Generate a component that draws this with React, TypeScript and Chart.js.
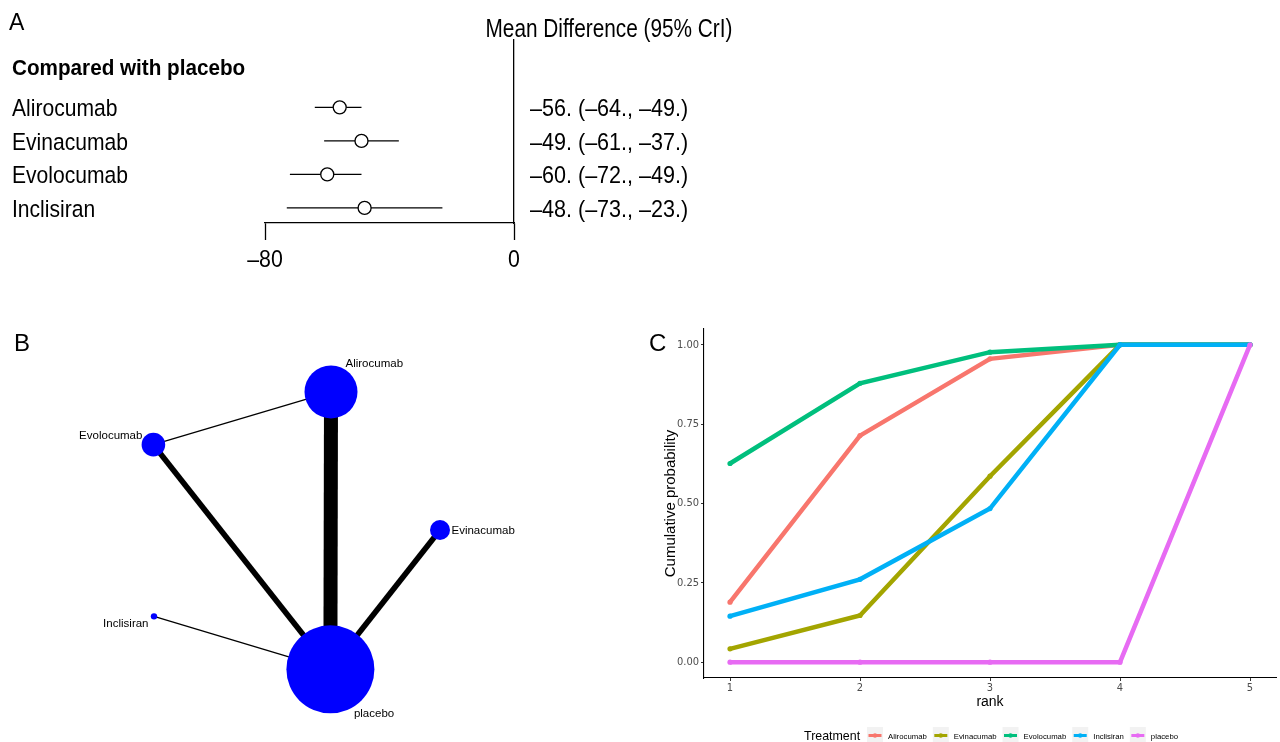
import React, { useEffect, useRef } from 'react';
import { Chart, registerables } from 'chart.js';

Chart.register(...registerables);

// ---------------- Panel A: forest plot data ----------------
const forestTreatments = ['Alirocumab', 'Evinacumab', 'Evolocumab', 'Inclisiran'];
const meanDifference = [-56, -49, -60, -48];
const lowerCrI = [-64, -61, -72, -73];
const upperCrI = [-49, -37, -49, -23];
const forestTicks = [-80, 0];
const forestTitle = 'Mean Difference (95% CrI)';
const forestHeader = 'Compared with placebo';

// ---------------- Panel B: network data ----------------
const netNodes = ['placebo', 'Alirocumab', 'Evolocumab', 'Evinacumab', 'Inclisiran'];
const netNodeX = [0.152, 0.155, -0.733, 0.7, -0.73];
const netNodeY = [-0.828, 0.833, 0.517, 0.006, -0.511];
const netNodeSize = [44, 26.5, 11.8, 10, 3.2];
const netEdgeFrom = ['Alirocumab', 'Evolocumab', 'Evinacumab', 'Inclisiran', 'Evolocumab'];
const netEdgeTo = ['placebo', 'placebo', 'placebo', 'placebo', 'Alirocumab'];
const netEdgeStudies = [5, 2, 2, 1, 1];

// ---------------- Panel C: cumulative ranking data ----------------
const ranks = [1, 2, 3, 4, 5];
const rankTreatments = ['Alirocumab', 'Evinacumab', 'Evolocumab', 'Inclisiran', 'placebo'];
const cumAlirocumab = [0.189, 0.714, 0.956, 1, 1];
const cumEvinacumab = [0.042, 0.147, 0.586, 1, 1];
const cumEvolocumab = [0.626, 0.879, 0.977, 1, 1];
const cumInclisiran = [0.145, 0.261, 0.484, 1, 1];
const cumPlacebo = [0, 0, 0, 0, 1];
const probTicks = [0, 0.25, 0.5, 0.75, 1];

const cumSeries = [cumAlirocumab, cumEvinacumab, cumEvolocumab, cumInclisiran, cumPlacebo];
const seriesColors = ['#F8766D', '#A3A500', '#00BF7D', '#00B0F6', '#E76BF3'];

const CONDENSED = '"DejaVu Sans Condensed", "Liberation Sans Narrow", sans-serif';
const SANS = '"Liberation Sans", Arial, sans-serif';

const fmtNum = (v: number) => (v < 0 ? '\u2013' : '') + Math.abs(v);
const ciLabels = meanDifference.map(
  (m, i) => `${fmtNum(m)}. (${fmtNum(lowerCrI[i])}., ${fmtNum(upperCrI[i])}.)`
);
const HEADER_ROW = -1.2;

// draws text horizontally condensed by factor k, vertically centred on the cap height
function drawText(
  ctx: CanvasRenderingContext2D,
  text: string,
  x: number,
  capCenterY: number,
  size: number,
  weight: string,
  k: number,
  align: 'left' | 'center' | 'right',
  color = '#000'
) {
  ctx.save();
  ctx.font = `${weight} ${size}px ${SANS}`;
  ctx.textBaseline = 'alphabetic';
  ctx.textAlign = 'left';
  ctx.fillStyle = color;
  const w = ctx.measureText(text).width * k;
  const left = align === 'left' ? x : align === 'center' ? x - w / 2 : x - w;
  ctx.translate(left, capCenterY + 0.358 * size);
  ctx.scale(k, 1);
  ctx.fillText(text, 0, 0);
  ctx.restore();
  return w;
}

const forestTextPlugin = {
  id: 'forestText',
  afterDraw(chart: any) {
    const { ctx, chartArea, scales } = chart;
    const sx = scales.x;
    const sy = scales.y;
    drawText(ctx, forestTitle, chartArea.right + 95, 28, 26, 'normal', 0.8, 'center');
    drawText(ctx, forestHeader, 12, sy.getPixelForValue(HEADER_ROW), 22, 'bold', 0.94, 'left');
    forestTreatments.forEach((t, i) => {
      const y = sy.getPixelForValue(i);
      drawText(ctx, t, 12, y, 24.5, 'normal', 0.86, 'left');
      drawText(ctx, ciLabels[i], chartArea.right + 16, y, 24.5, 'normal', 0.88, 'left');
    });
    forestTicks.forEach((v) => {
      drawText(ctx, fmtNum(v), sx.getPixelForValue(v), 258.5, 24.5, 'normal', 0.87, 'center');
    });
  },
};

const labelPlacement: Record<string, [number, number, CanvasTextAlign]> = {
  placebo: [23.5, 45, 'left'],
  Alirocumab: [14.5, -28, 'left'],
  Evolocumab: [-11, -9, 'right'],
  Evinacumab: [11.5, 1, 'left'],
  Inclisiran: [-5.5, 7, 'right'],
};

const netLabelPlugin = {
  id: 'netLabels',
  afterDatasetsDraw(chart: any) {
    const idx = chart.data.datasets.findIndex((d: any) => d.type === 'bubble');
    const meta = chart.getDatasetMeta(idx);
    const { ctx } = chart;
    ctx.save();
    ctx.font = `11.5px ${SANS}`;
    ctx.fillStyle = '#000';
    ctx.textBaseline = 'middle';
    meta.data.forEach((el: any, i: number) => {
      const name = netNodes[i];
      const p = labelPlacement[name];
      ctx.textAlign = p[2];
      ctx.fillText(name, el.x + p[0], el.y + p[1]);
    });
    ctx.restore();
  },
};

const rankLegendPlugin = {
  id: 'rankLegend',
  afterDraw(chart: any) {
    const { ctx } = chart;
    const yc = 415.5;
    drawText(ctx, 'Treatment', 164, yc, 13.5, 'normal', 0.92, 'left');
    let x = 227;
    chart.data.datasets.forEach((ds: any) => {
      ctx.save();
      ctx.fillStyle = '#f2f2f2';
      ctx.fillRect(x, yc - 8.5, 16, 17);
      ctx.strokeStyle = ds.borderColor;
      ctx.lineWidth = 3;
      ctx.beginPath();
      ctx.moveTo(x + 1.5, yc);
      ctx.lineTo(x + 14.5, yc);
      ctx.stroke();
      ctx.fillStyle = ds.borderColor;
      ctx.beginPath();
      ctx.arc(x + 8, yc, 2.2, 0, Math.PI * 2);
      ctx.fill();
      ctx.restore();
      const w = drawText(ctx, ds.label, x + 21, yc + 0.5, 8, 'normal', 0.97, 'left');
      x += 21 + w + 6;
    });
  },
};

function ForestPanel() {
  const ref = useRef<HTMLCanvasElement>(null);
  useEffect(() => {
    const chart = new Chart(ref.current as HTMLCanvasElement, {
      type: 'scatter',
      data: {
        datasets: [
          {
            type: 'scatter',
            data: meanDifference.map((m, i) => ({ x: m, y: i })),
            pointRadius: 6.5,
            pointBackgroundColor: '#fff',
            pointBorderColor: '#000',
            pointBorderWidth: 1.3,
            order: 0,
            clip: false,
          } as any,
          ...forestTreatments.map((_, i) => ({
            type: 'line',
            data: [
              { x: lowerCrI[i], y: i },
              { x: upperCrI[i], y: i },
            ],
            borderColor: '#000',
            borderWidth: 1.3,
            pointRadius: 0,
            order: 1,
          })),
        ],
      },
      options: {
        responsive: false,
        animation: false,
        events: [],
        layout: { padding: { left: 12, right: 0, top: 40, bottom: 12 } },
        plugins: { legend: { display: false }, tooltip: { enabled: false } },
        scales: {
          x: {
            type: 'linear',
            position: 'bottom',
            min: -80,
            max: 0,
            afterBuildTicks: (s: any) => {
              s.ticks = forestTicks.map((v) => ({ value: v }));
            },
            grid: { display: true, drawOnChartArea: false, tickLength: 17, tickColor: '#000', tickWidth: 1.3 },
            border: { display: true, color: '#000', width: 1.3 },
            ticks: { display: false },
            afterFit: (s: any) => {
              s.height = 45;
            },
          },
          y: {
            type: 'linear',
            position: 'left',
            reverse: true,
            min: -2.01,
            max: 3.45,
            grid: { display: false, drawTicks: false },
            border: { display: false },
            ticks: { display: false },
            afterFit: (s: any) => {
              s.width = 253;
            },
          },
          y2: {
            type: 'linear',
            position: 'right',
            reverse: true,
            min: -2.01,
            max: 3.45,
            grid: { display: false, drawTicks: false },
            border: { display: true, color: '#000', width: 1.3 },
            ticks: { display: false },
            afterFit: (s: any) => {
              s.width = 246;
            },
          },
        },
      } as any,
      plugins: [forestTextPlugin],
    });
    return () => chart.destroy();
  }, []);
  return <canvas ref={ref} width={760} height={280} style={{ position: 'absolute', left: 0, top: 0 }} />;
}

function NetworkPanel() {
  const ref = useRef<HTMLCanvasElement>(null);
  useEffect(() => {
    const pos = (name: string) => {
      const i = netNodes.indexOf(name);
      return { x: netNodeX[i], y: netNodeY[i] };
    };
    const chart = new Chart(ref.current as HTMLCanvasElement, {
      type: 'scatter',
      data: {
        datasets: [
          {
            type: 'bubble',
            label: 'nodes',
            data: netNodes.map((_, i) => ({ x: netNodeX[i], y: netNodeY[i], r: netNodeSize[i] })),
            backgroundColor: '#0000FF',
            borderWidth: 0,
            order: 0,
            clip: false,
          } as any,
          ...netEdgeFrom.map((from, k) => ({
            type: 'line',
            data: [pos(from), pos(netEdgeTo[k])],
            borderColor: '#000',
            borderWidth: netEdgeStudies[k] === 1 ? 1.3 : netEdgeStudies[k] * 2.8,
            pointRadius: 0,
            order: 1,
            clip: false,
          })),
        ],
      },
      options: {
        responsive: false,
        animation: false,
        events: [],
        layout: { padding: { left: 100, right: 80, top: 40, bottom: 22 } },
        plugins: { legend: { display: false }, tooltip: { enabled: false } },
        scales: {
          x: { type: 'linear', min: -1, max: 1, display: false },
          y: { type: 'linear', min: -1, max: 1, display: false },
        },
      } as any,
      plugins: [netLabelPlugin],
    });
    return () => chart.destroy();
  }, []);
  return <canvas ref={ref} width={580} height={422} style={{ position: 'absolute', left: 0, top: 320 }} />;
}

function RankPanel() {
  const ref = useRef<HTMLCanvasElement>(null);
  useEffect(() => {
    const tickFont = { family: CONDENSED, size: 11 };
    const chart = new Chart(ref.current as HTMLCanvasElement, {
      type: 'line',
      data: {
        datasets: rankTreatments.map((t, i) => ({
          label: t,
          data: ranks.map((r, j) => ({ x: r, y: cumSeries[i][j] })),
          borderColor: seriesColors[i],
          backgroundColor: seriesColors[i],
          borderWidth: 4.5,
          pointRadius: 2.6,
          pointBorderWidth: 0,
          pointBackgroundColor: seriesColors[i],
          tension: 0,
          order: rankTreatments.length - i,
          clip: false,
        })),
      },
      options: {
        responsive: false,
        animation: false,
        events: [],
        layout: { padding: { left: 18, right: 0, top: 9, bottom: 27 } },
        plugins: { legend: { display: false }, tooltip: { enabled: false } },
        scales: {
          x: {
            type: 'linear',
            min: 0.8,
            max: 5.2,
            afterBuildTicks: (s: any) => {
              s.ticks = ranks.map((v) => ({ value: v }));
            },
            grid: { display: true, drawOnChartArea: false, tickLength: 3, tickColor: '#333', tickWidth: 1 },
            border: { display: true, color: '#000', width: 1.1 },
            ticks: { font: tickFont, color: '#4D4D4D', padding: 1, autoSkip: false, maxRotation: 0 },
            title: { display: true, text: 'rank', font: { family: SANS, size: 14 }, color: '#000', padding: { top: 4, bottom: 4 } },
            afterFit: (s: any) => {
              s.height = 37;
            },
          },
          y: {
            type: 'linear',
            min: -0.05,
            max: 1.05,
            afterBuildTicks: (s: any) => {
              s.ticks = probTicks.map((v) => ({ value: v }));
            },
            grid: { display: true, drawOnChartArea: false, tickLength: 3, tickColor: '#333', tickWidth: 1 },
            border: { display: true, color: '#000', width: 1.1 },
            ticks: { font: tickFont, color: '#4D4D4D', padding: 2, autoSkip: false, callback: (v: any) => Number(v).toFixed(2) },
            title: { display: true, text: 'Cumulative probability', font: { family: SANS, size: 15 }, color: '#000', padding: { top: 4, bottom: 4 } },
            afterFit: (s: any) => {
              s.width = 46;
            },
          },
        },
      } as any,
      plugins: [rankLegendPlugin],
    });
    return () => chart.destroy();
  }, []);
  return <canvas ref={ref} width={640} height={422} style={{ position: 'absolute', left: 640, top: 320 }} />;
}

const letterStyle = (left: number, top: number, size: number): React.CSSProperties => ({
  position: 'absolute',
  left,
  top,
  fontFamily: SANS,
  fontSize: size,
  lineHeight: 1,
  color: '#000',
});

export default function App() {
  return (
    <div
      style={{
        position: 'fixed',
        left: 0,
        top: 0,
        width: 1280,
        height: 742,
        background: '#fff',
        overflow: 'hidden',
      }}
    >
      <ForestPanel />
      <NetworkPanel />
      <RankPanel />
      <div style={letterStyle(9, 11, 23)}>A</div>
      <div style={letterStyle(14, 331, 24)}>B</div>
      <div style={letterStyle(649, 331, 24)}>C</div>
    </div>
  );
}
